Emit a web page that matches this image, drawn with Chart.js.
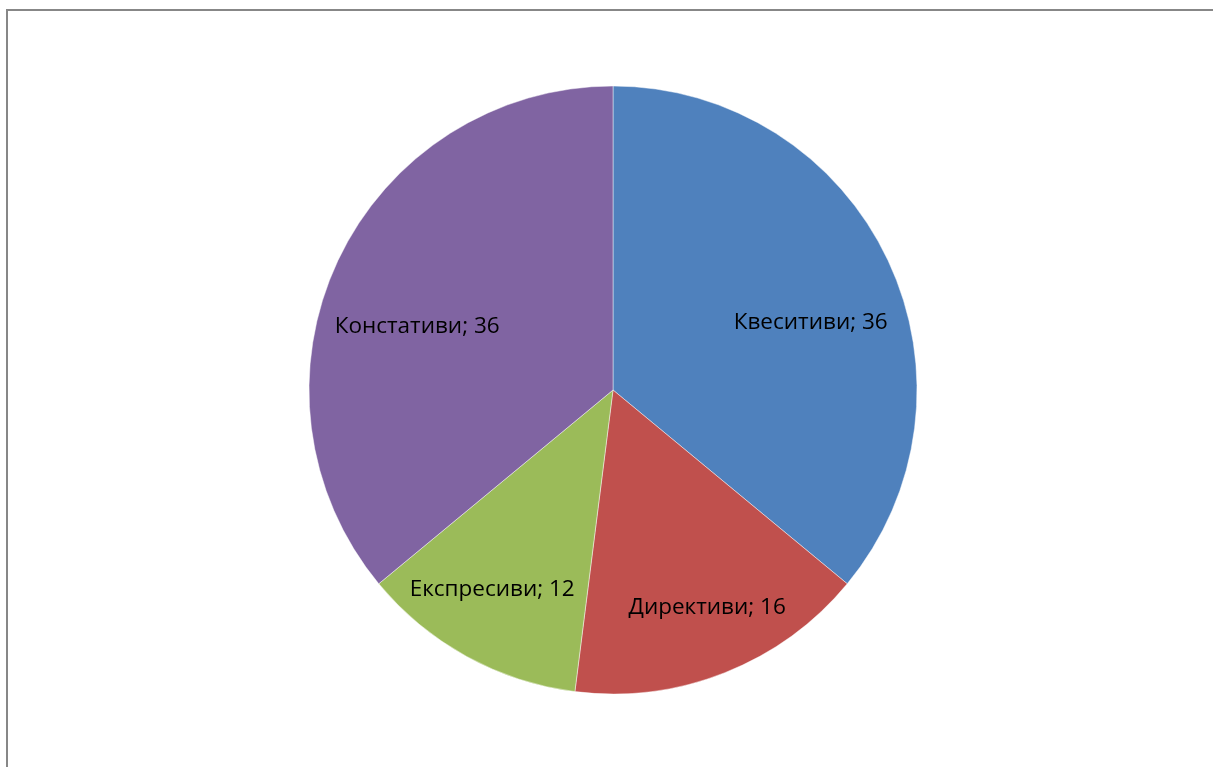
<!DOCTYPE html>
<html>
<head>
<meta charset="utf-8">
<title>Pie</title>
<script src="https://cdn.jsdelivr.net/npm/chart.js@4.4.1/dist/chart.umd.min.js"></script>
<style>
  html, body { margin: 0; padding: 0; background: #ffffff; }
  #wrap { width: 1213px; height: 767px; position: relative; }
</style>
</head>
<body>
<div id="wrap"><canvas id="c" width="1213" height="767"></canvas></div>
<script>
// Speech act categories and counts
const categories = ['Квеситиви', 'Директиви', 'Експресиви', 'Констативи'];
const counts = [36, 16, 12, 36];

// Slice fills
const sliceColors = ['#4F81BD', '#C0504D', '#9BBB59', '#8064A2'];
// Label anchor: angle (deg, clockwise from top) and fraction of the radius
const labelAngle = [71.2, 156.6, 211.2, 287.9];
const labelRadius = [0.687, 0.78, 0.767, 0.677];

const frame = {
  id: 'frame',
  beforeDraw(chart) {
    const ctx = chart.ctx;
    ctx.save();
    ctx.fillStyle = '#ffffff';
    ctx.fillRect(0, 0, chart.width, chart.height);
    ctx.strokeStyle = '#878787';
    ctx.lineWidth = 2;
    ctx.strokeRect(7, 10, chart.width + 20, chart.height + 20);
    ctx.restore();
  }
};

const sliceLabels = {
  id: 'sliceLabels',
  afterDatasetsDraw(chart) {
    const ctx = chart.ctx;
    const meta = chart.getDatasetMeta(0);
    ctx.save();
    ctx.font = '22.5px "Open Sans", sans-serif';
    ctx.fillStyle = '#000000';
    ctx.textAlign = 'center';
    ctx.textBaseline = 'middle';
    meta.data.forEach((arc, i) => {
      const a = labelAngle[i] * Math.PI / 180;
      const r = arc.outerRadius * labelRadius[i];
      const x = arc.x + r * Math.sin(a);
      const y = arc.y - r * Math.cos(a);
      ctx.fillText(categories[i] + '; ' + counts[i], x, y);
    });
    ctx.restore();
  }
};

new Chart(document.getElementById('c'), {
  type: 'pie',
  data: {
    labels: categories,
    datasets: [{
      data: counts,
      backgroundColor: sliceColors,
      borderColor: 'rgba(255,255,255,0.45)',
      borderWidth: 1
    }]
  },
  options: {
    responsive: false,
    animation: false,
    radius: 304,
    layout: { padding: { left: 13, right: 0, top: 87, bottom: 74 } },
    plugins: {
      legend: { display: false },
      tooltip: { enabled: false }
    }
  },
  plugins: [frame, sliceLabels]
});
</script>
</body>
</html>
